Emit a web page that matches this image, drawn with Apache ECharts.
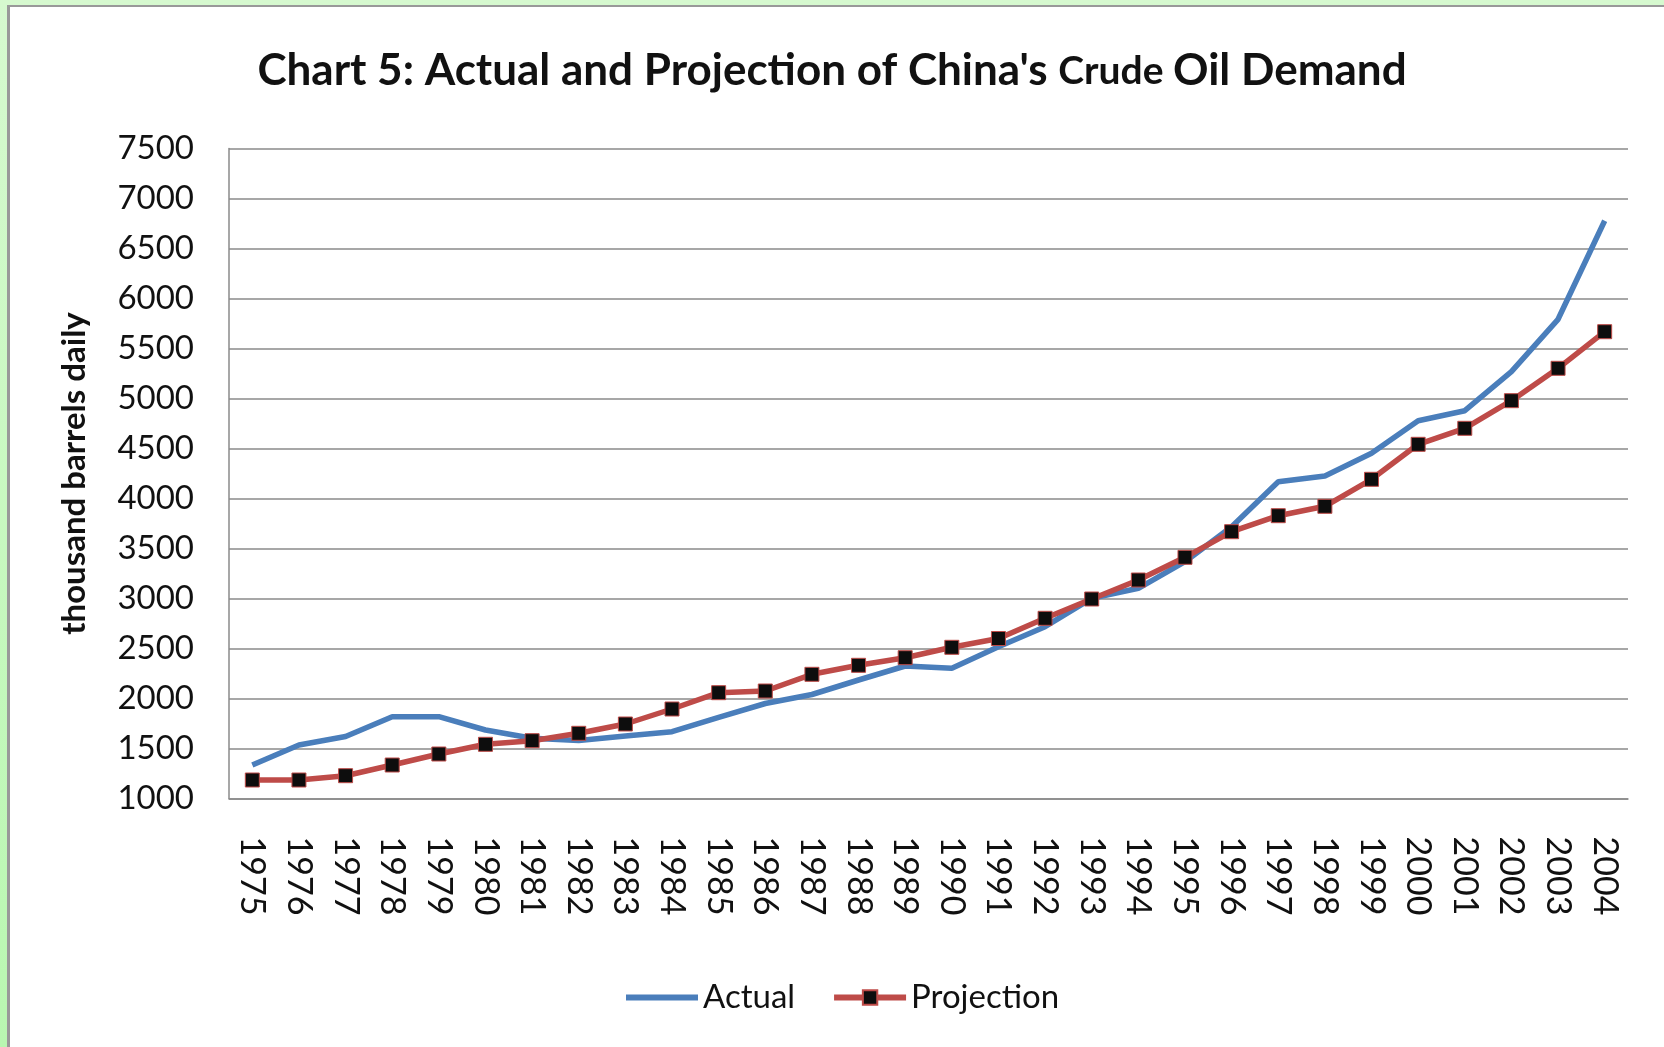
<!DOCTYPE html>
<html>
<head>
<meta charset="utf-8">
<title>Chart 5</title>
<script src="https://cdn.jsdelivr.net/npm/echarts@6/dist/echarts.min.js"></script>
<style>
  html, body {
    margin: 0;
    padding: 0;
    width: 1664px;
    height: 1047px;
    overflow: hidden;
    background: linear-gradient(#d6f9cf, #b9f7b1);
  }
  .frame {
    position: absolute;
    left: 7px;
    top: 5px;
    right: 0;
    bottom: 0;
    background: #ffffff;
    border-left: 3px solid #999999;
    border-top: 2px solid #999999;
  }
  #chart {
    position: absolute;
    left: 0;
    top: 0;
    width: 1664px;
    height: 1047px;
  }
</style>
</head>
<body>
<div class="frame"></div>
<div id="chart"></div>
<script>
// years on the x axis
const years = ['1975', '1976', '1977', '1978', '1979', '1980', '1981', '1982', '1983', '1984',
  '1985', '1986', '1987', '1988', '1989', '1990', '1991', '1992', '1993', '1994',
  '1995', '1996', '1997', '1998', '1999', '2000', '2001', '2002', '2003', '2004']

// thousand barrels daily
const actual = [1335, 1535, 1620, 1818, 1818, 1685, 1602, 1580, 1625, 1668,
  1812, 1950, 2040, 2185, 2325, 2302, 2518, 2718, 3002, 3102,
  3368, 3718, 4168, 4225, 4452, 4778, 4878, 5268, 5792, 6778]

const projection = [1185, 1185, 1228, 1335, 1445, 1542, 1578, 1652, 1745, 1895,
  2058, 2075, 2242, 2332, 2408, 2512, 2600, 2802, 2995, 3185,
  3412, 3668, 3828, 3922, 4192, 4542, 4702, 4978, 5302, 5668]

const font = 'Lato, "Open Sans", sans-serif'
const gridColor = '#8a8a8a'

const chart = echarts.init(document.getElementById('chart'))
const option = {
  backgroundColor: 'transparent',
  animation: false,
  title: {
    text: "{a|Chart 5: Actual and Projection of China's }{b|Crude }{a|Oil Demand}",
    left: 'center',
    top: 44,
    textStyle: {
      rich: {
        a: { fontFamily: font, fontSize: 44, fontWeight: 'bold', color: '#111' },
        b: { fontFamily: font, fontSize: 39, fontWeight: 'bold', color: '#111' }
      }
    }
  },
  legend: {
    left: 618,
    top: 976,
    itemWidth: 72,
    itemHeight: 18,
    itemGap: 36,
    textStyle: { fontFamily: font, fontSize: 33, color: '#111' },
    data: [
      { name: 'Actual', itemStyle: { opacity: 0 }, lineStyle: { width: 6 } },
      { name: 'Projection', lineStyle: { width: 6 } }
    ]
  },
  grid: {
    left: 229,
    right: 36,
    top: 148.5,
    bottom: 248.5,
    containLabel: false
  },
  xAxis: {
    type: 'category',
    data: years,
    boundaryGap: true,
    axisLine: { lineStyle: { color: gridColor, width: 1.5 } },
    axisTick: { show: false },
    axisLabel: {
      interval: 0,
      rotate: -90,
      margin: 38,
      fontFamily: font,
      fontSize: 34,
      color: '#111'
    }
  },
  yAxis: {
    type: 'value',
    min: 1000,
    max: 7500,
    interval: 500,
    name: 'thousand barrels daily',
    nameLocation: 'middle',
    nameRotate: 90,
    nameGap: 138,
    nameTextStyle: { fontFamily: font, fontSize: 33, fontWeight: 'bold', color: '#111' },
    axisLine: { show: true, lineStyle: { color: gridColor, width: 1.5 } },
    axisTick: { show: false },
    axisLabel: {
      margin: 35,
      fontFamily: font,
      fontSize: 33,
      color: '#111',
      formatter: (v) => String(v)
    },
    splitLine: { lineStyle: { color: gridColor, width: 1.5 } }
  },
  series: [
    {
      name: 'Actual',
      type: 'line',
      data: actual,
      symbol: 'none',
      lineStyle: { color: '#4a7ebb', width: 5.5 },
      itemStyle: { color: '#4a7ebb' },
      z: 2
    },
    {
      name: 'Projection',
      type: 'line',
      data: projection,
      symbol: 'rect',
      symbolSize: 14,
      lineStyle: { color: '#be4b48', width: 5.5 },
      itemStyle: { color: '#0d0d0d', borderColor: '#be4b48', borderWidth: 1 },
      z: 3
    }
  ]
}
chart.setOption(option)
</script>
</body>
</html>
